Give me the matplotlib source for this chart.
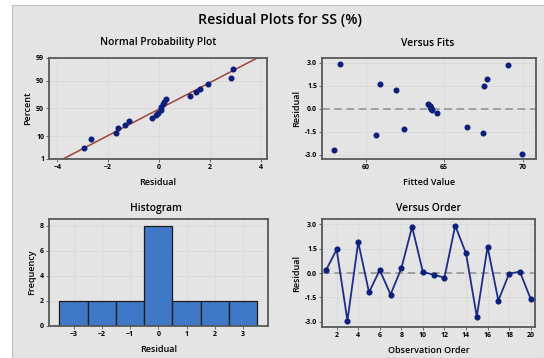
import matplotlib
matplotlib.use("Agg")
import matplotlib.pyplot as plt
import numpy as np
from statistics import NormalDist

# residuos por ordem de observacao
ordem = list(range(1, 21))
residuos = [0.16, 1.45, -2.94, 1.91, -1.19, 0.18, -1.33, 0.29, 2.85, 0.06,
            -0.10, -0.29, 2.92, 1.21, -2.69, 1.62, -1.70, -0.04, 0.08, -1.60]
# valores ajustados correspondentes
ajustados = [64.10, 67.54, 69.98, 67.73, 66.45, 64.12, 62.46, 63.99, 69.07, 64.14,
             64.20, 64.55, 58.39, 61.93, 57.96, 60.91, 60.64, 64.17, 64.15, 67.46]

bins_hist = [-3.5, -2.5, -1.5, -0.5, 0.5, 1.5, 2.5, 3.5]
prob_ticks = [1, 10, 50, 90, 99]

plt.rcParams['font.family'] = ['Open Sans', 'DejaVu Sans']
fundo = '#e4e4e4'
azul = '#0c1f7a'
cinza_spine = '#585858'
grade = '#d9d9d9'

W, H = 544, 358
fig = plt.figure(figsize=(W / 100, H / 100), dpi=100, facecolor='white')
# painel cinza
fig.patches.append(plt.Rectangle((12 / W, 0), 1 - 12 / W, 1 - 5 / H,
                                 transform=fig.transFigure, facecolor=fundo,
                                 edgecolor='#bdbdbd', lw=0.8, zorder=-10))


def eixo(x0, y0, x1, y1):
    ax = fig.add_axes([x0 / W, 1 - y1 / H, (x1 - x0) / W, (y1 - y0) / H])
    ax.set_facecolor(fundo)
    for s in ax.spines.values():
        s.set_color(cinza_spine)
        s.set_linewidth(1.3)
    ax.tick_params(labelsize=5, length=2, width=0.6, color=cinza_spine, pad=1.5)
    ax.grid(True, color=grade, lw=0.6)
    ax.set_axisbelow(True)
    return ax


def negrito(ax):
    for lab in ax.get_xticklabels() + ax.get_yticklabels():
        lab.set_fontweight('bold')


def titulo(x, y, t):
    fig.text(x / W, 1 - y / H, t, ha='center', va='center',
             fontsize=7.4, fontweight='semibold')


def rotulos(ax, xl, yl):
    ax.set_xlabel(xl, fontsize=6.5, fontweight='semibold', labelpad=5)
    ax.set_ylabel(yl, fontsize=6.5, fontweight='semibold', labelpad=3)


fig.text(279.5 / W, 1 - 20 / H, 'Residual Plots for SS (%)', ha='center', va='center',
         fontsize=10.2, fontweight='semibold')

nd = NormalDist()

# Normal Probability Plot
ax1 = eixo(49, 58, 267, 159)
r_ord = np.sort(residuos)
n = len(r_ord)
pos = [(i - 0.3) / (n + 0.4) for i in range(1, n + 1)]
z = [nd.inv_cdf(p) for p in pos]
media = np.mean(residuos)
desvio = np.std(residuos, ddof=1)
xl = np.array([-4.5, 4.5])
ax1.plot(xl, (xl - media) / desvio, color='#a14238', lw=1.1, zorder=2)
ax1.scatter(r_ord, z, s=11, color=azul, zorder=3)
zlim = nd.inv_cdf(0.01)
ax1.set_ylim(zlim, -zlim)
ax1.set_xlim(-4.33, 4.25)
ax1.set_yticks([nd.inv_cdf(p / 100) for p in prob_ticks])
ax1.set_yticklabels([str(p) for p in prob_ticks])
ax1.set_xticks([-4, -2, 0, 2, 4])
negrito(ax1)
titulo(158.5, 43, 'Normal Probability Plot')
rotulos(ax1, 'Residual', 'Percent')

# Versus Fits
ax2 = eixo(322, 58, 536, 159)
ax2.axhline(0, color='#8e8e8e', lw=1.1, ls=(0, (5, 3)), zorder=2)
ax2.scatter(ajustados, residuos, s=11, color=azul, zorder=3)
ax2.set_xlim(57.22, 70.85)
ax2.set_ylim(-3.26, 3.3)
ax2.set_xticks([60, 65, 70])
ax2.set_yticks([-3.0, -1.5, 0.0, 1.5, 3.0])
ax2.set_yticklabels(['-3.0', '-1.5', '0.0', '1.5', '3.0'])
negrito(ax2)
titulo(427.5, 43, 'Versus Fits')
rotulos(ax2, 'Fitted Value', 'Residual')

# Histogram
ax3 = eixo(49, 219, 268, 326)
ax3.hist(residuos, bins=bins_hist, color='#3f78c6', edgecolor='#1a1a1a', lw=0.9, zorder=2)
ax3.set_xlim(-3.87, 3.88)
ax3.set_ylim(0, 8.53)
ax3.set_xticks([-3, -2, -1, 0, 1, 2, 3])
ax3.set_yticks([0, 2, 4, 6, 8])
negrito(ax3)
titulo(156, 208, 'Histogram')
rotulos(ax3, 'Residual', 'Frequency')

# Versus Order
ax4 = eixo(322, 219, 535, 327)
ax4.axhline(0, color='#8e8e8e', lw=1.1, ls=(0, (5, 3)), zorder=2)
ax4.plot(ordem, residuos, color='#1e2d86', lw=1.3, marker='o', ms=3.4,
         markerfacecolor=azul, markeredgecolor=azul, zorder=3)
ax4.set_xlim(0.64, 20.4)
ax4.set_ylim(-3.33, 3.33)
ax4.set_xticks(range(2, 21, 2))
ax4.set_yticks([-3.0, -1.5, 0.0, 1.5, 3.0])
ax4.set_yticklabels(['-3.0', '-1.5', '0.0', '1.5', '3.0'])
negrito(ax4)
titulo(428, 208, 'Versus Order')
rotulos(ax4, 'Observation Order', 'Residual')

fig.savefig('out.png', dpi=100, facecolor='white')
